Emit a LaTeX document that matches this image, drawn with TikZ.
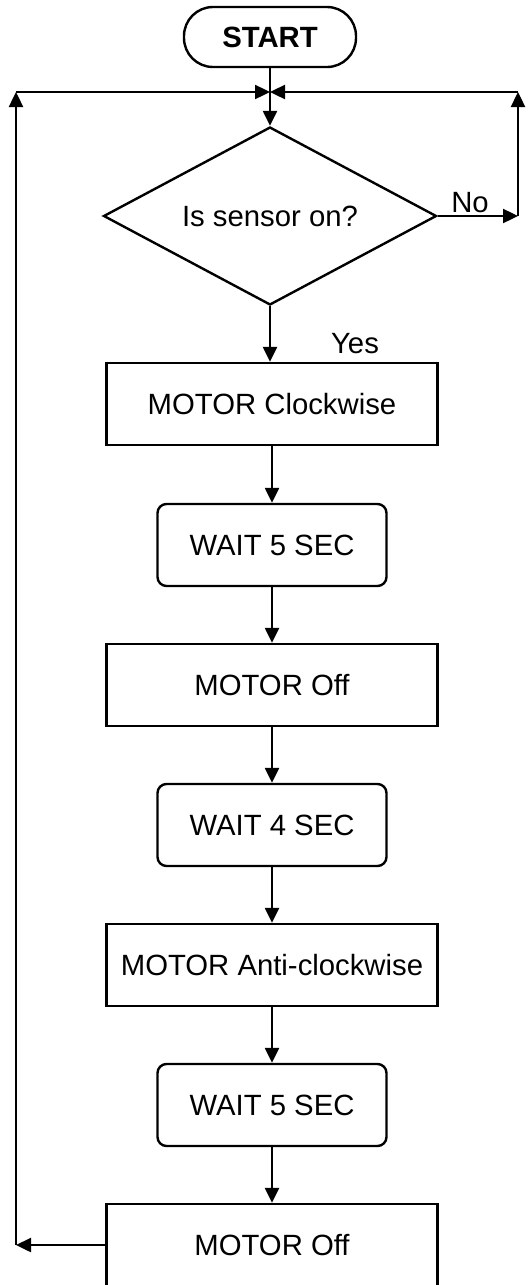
\documentclass[tikz,border=0pt]{standalone}
\usepackage{fontspec}
\setmainfont{Liberation Sans}
\usetikzlibrary{shapes.geometric,arrows.meta}
\begin{document}
\begin{tikzpicture}[x=1pt,y=-1pt,line width=2.4pt,
  >={Triangle[length=15pt,width=14pt]},
  every node/.style={font=\fontsize{29.3}{35}\selectfont},
  terminal/.style={draw,rectangle,rounded corners=29pt,minimum width=172pt,minimum height=60pt,inner sep=0pt,font=\fontsize{29.3}{35}\selectfont\bfseries},
  decision/.style={draw,diamond,shape aspect=1.87,minimum width=333pt,minimum height=178pt,inner sep=0pt},
  process/.style={draw,rectangle,minimum width=331pt,minimum height=82pt,inner sep=0pt},
  waitbox/.style={draw,rectangle,rounded corners=9pt,minimum width=229pt,minimum height=82pt,inner sep=0pt},
  flow/.style={->}]
\useasboundingbox (0,0) rectangle (530,1285);

% main column
\node[terminal] (start) at (270,37) {START};
\node[decision] (sensor) at (270,216) {Is sensor on?};
\node[process] (cw)   at (272,404)  {MOTOR Clockwise};
\node[waitbox] (w1)   at (272,545)  {WAIT 5 SEC};
\node[process] (off1) at (272,685)  {MOTOR Off};
\node[waitbox] (w2)   at (272,825)  {WAIT 4 SEC};
\node[process] (acw)  at (272,965)  {MOTOR Anti-clockwise};
\node[waitbox] (w3)   at (272,1105) {WAIT 5 SEC};
\node[process] (off2) at (272,1245) {MOTOR Off};

% loop corners
\coordinate (join) at (270,92);
\coordinate (ltop) at (16,92);
\coordinate (lbot) at (16,1245);
\coordinate (rtop) at (518,92);
\coordinate (rbot) at (518,216);

% connectors
\draw[flow] (start.south) -- (sensor.north);
\draw[flow] (sensor.south) -- (sensor.south |- cw.north);
\draw[flow] (cw.south) -- (w1.north);
\draw[flow] (w1.south) -- (off1.north);
\draw[flow] (off1.south) -- (w2.north);
\draw[flow] (w2.south) -- (acw.north);
\draw[flow] (acw.south) -- (w3.north);
\draw[flow] (w3.south) -- (off2.north);

% return path from the last step
\draw[flow] (off2.west) -- (lbot);
\draw[flow] (lbot) -- (ltop);
\draw[flow] (ltop) -- (join);

% "No" branch
\draw[flow] (sensor.east) -- (rbot);
\draw[flow] (rbot) -- (rtop);
\draw[flow] (rtop) -- (join);

% branch labels
\node[anchor=base] (nolbl) at (470,212) {No};
\node[anchor=base] (yeslbl) at (355,353) {Yes};
\end{tikzpicture}
\end{document}
